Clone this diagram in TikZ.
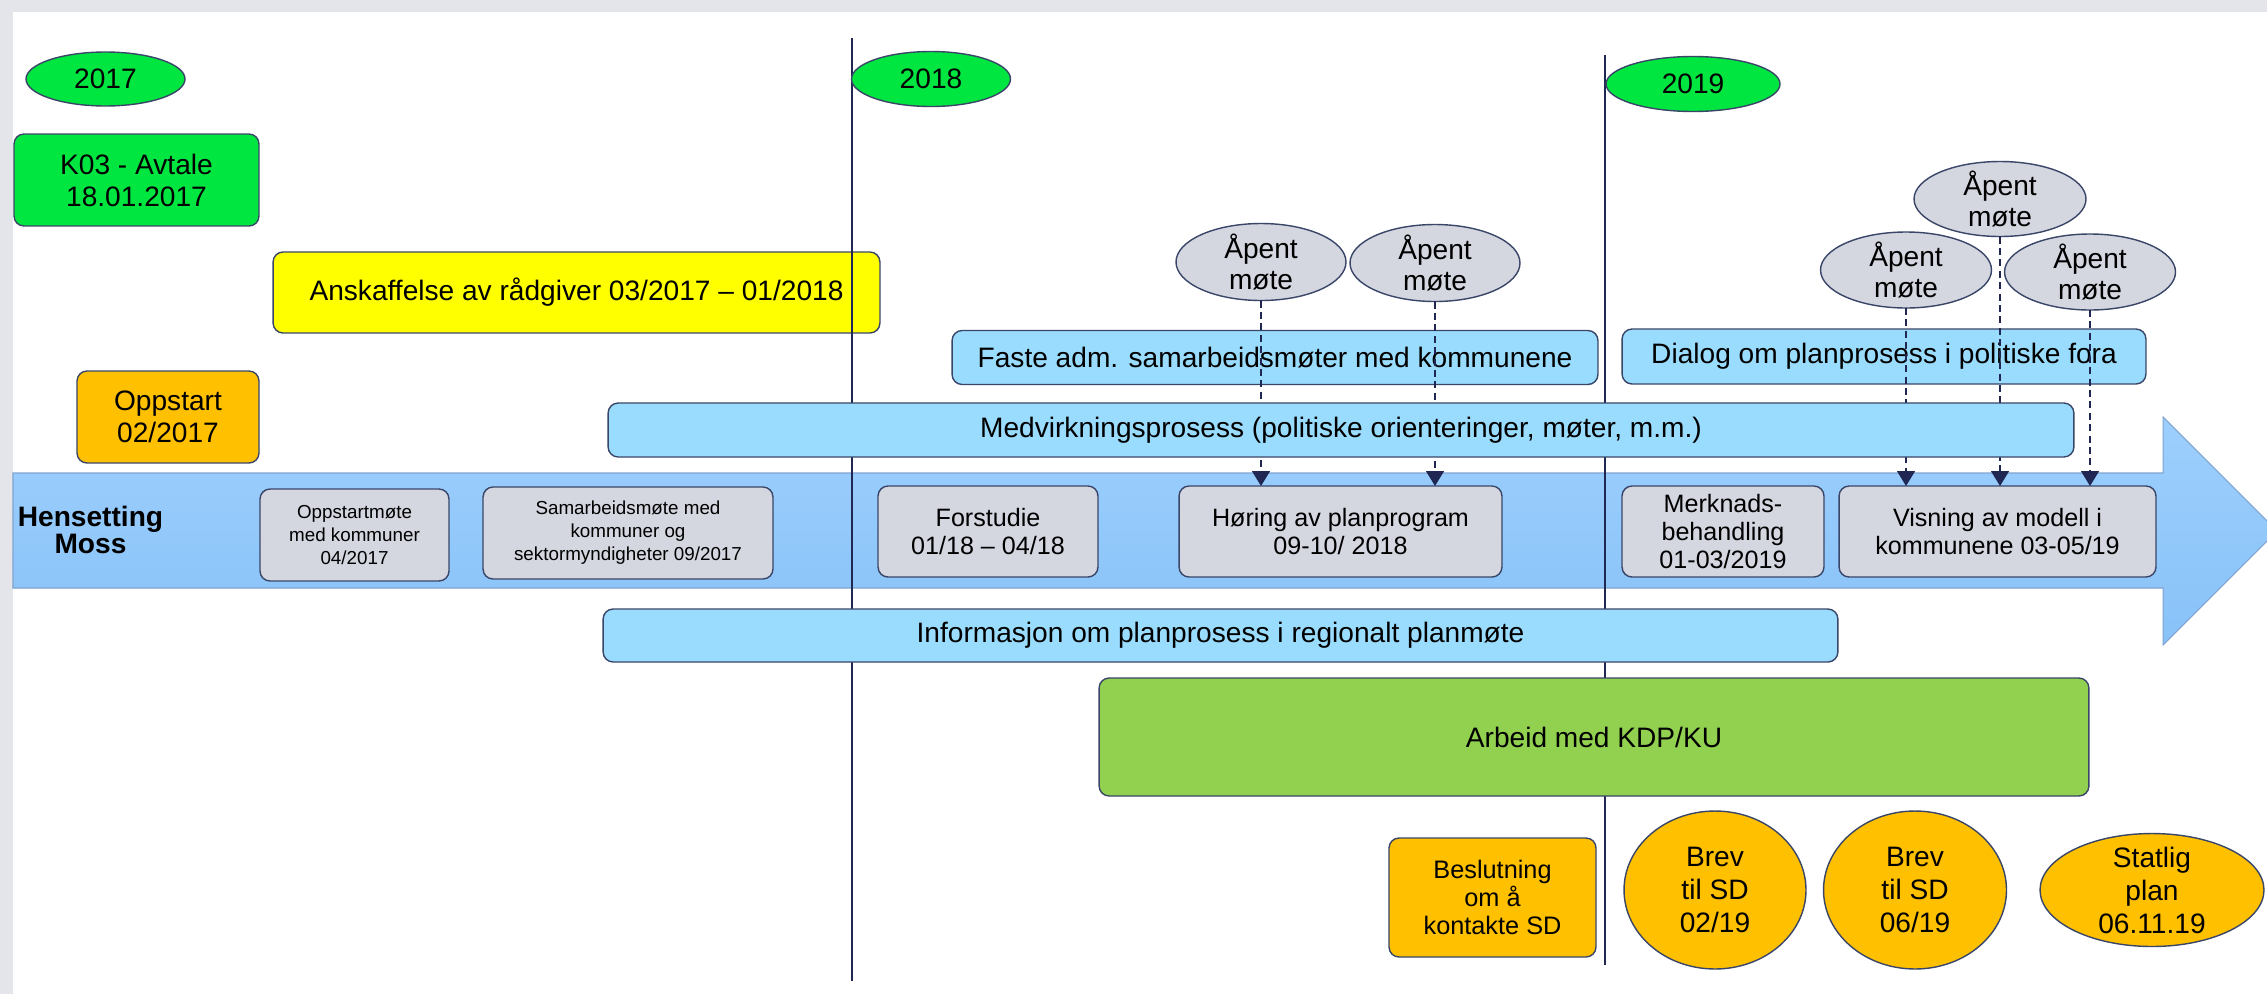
\documentclass[tikz,border=0pt]{standalone}
\usepackage{fontspec}
\setmainfont{Liberation Sans}
\usetikzlibrary{shapes.geometric,arrows.meta}
\definecolor{framec}{HTML}{E4E5EA}
\definecolor{bord}{HTML}{3A4668}
\definecolor{navy}{HTML}{1F2752}
\definecolor{cgreen}{HTML}{00E640}
\definecolor{cyellow}{HTML}{FFFF00}
\definecolor{corange}{HTML}{FFC000}
\definecolor{lblue}{HTML}{9ADCFD}
\definecolor{cgray}{HTML}{D4D6E0}
\definecolor{kgreen}{HTML}{92D050}
\definecolor{bandt}{HTML}{9DCFFD}
\definecolor{bandb}{HTML}{88C2F8}
\definecolor{bandd}{HTML}{7FA3CF}
\begin{document}
\begin{tikzpicture}[x=0.02cm,y=-0.02cm,
  base/.style={inner sep=0pt,outer sep=0pt,align=center,draw=bord,line width=0.8pt},
  rbox/.style={base,rectangle,rounded corners=0.2cm},
  ebox/.style={base,ellipse},
  tnode/.style={inner sep=0pt,outer sep=0pt,align=center},
  big/.style={font=\fontsize{16}{18.2}\selectfont},
  mid/.style={font=\fontsize{14.3}{15.8}\selectfont},
  sml/.style={font=\fontsize{10.7}{13.1}\selectfont},
  yline/.style={draw=navy,line width=1.1pt},
  darr/.style={draw=navy,line width=0.7pt,dash pattern=on 4pt off 2.5pt,-{Triangle[width=0.36cm,length=0.3cm]}},
]
\useasboundingbox (0,0) rectangle (2267,994);
% background
\fill[framec] (0,0) rectangle (2267,994);
\fill[white] (13,12) rectangle (2267,994);
% big timeline arrow
\shadedraw[top color=bandt,bottom color=bandb,draw=bandd,line width=0.6pt]
  (13,473) -- (2163,473) -- (2163,417) -- (2277,531) -- (2163,645) -- (2163,588) -- (13,588) -- cycle;
% yellow box (under the year line)
\node[rbox,fill=cyellow,minimum width=12.14cm,minimum height=1.62cm,big] (ansk) at (576.5,292.5) {Anskaffelse av rådgiver 03/2017 -- 01/2018};
% year lines
\coordinate (l18a) at (852,38);
\coordinate (l18b) at (852,981);
\coordinate (l19a) at (1605,55);
\coordinate (l19b) at (1605,965);
\draw[yline] (l18a) -- (l18b);
\draw[yline] (l19a) -- (l19b);
% year ellipses
\node[ebox,fill=cgreen,minimum width=3.18cm,minimum height=1.08cm,big] (y17) at (105.5,79) {2017};
\node[ebox,fill=cgreen,minimum width=3.18cm,minimum height=1.10cm,big] (y18) at (931,79) {2018};
\node[ebox,fill=cgreen,minimum width=3.48cm,minimum height=1.10cm,big] (y19) at (1693,84) {2019};
% top left boxes
\node[rbox,fill=cgreen,minimum width=4.90cm,minimum height=1.84cm,big] (k03) at (136.5,180) {K03 - Avtale\\18.01.2017};
\node[rbox,fill=corange,minimum width=3.64cm,minimum height=1.84cm,big] (opp) at (168,417) {Oppstart\\02/2017};
% meeting rows
\node[rbox,fill=lblue,minimum width=12.92cm,minimum height=1.08cm,big] (faste) at (1275,357.5) {Faste adm. samarbeidsmøter med kommunene};
\node[rbox,fill=lblue,minimum width=10.48cm,minimum height=1.10cm,big] (dialog) at (1884,356.5) {Dialog om planprosess i politiske fora};
% grey boxes in the band
\node[rbox,fill=cgray,minimum width=3.78cm,minimum height=1.84cm,sml] (opm) at (354.5,535) {Oppstartmøte\\med kommuner\\04/2017};
\node[rbox,fill=cgray,minimum width=5.80cm,minimum height=1.84cm,sml] (sam) at (628,533) {Samarbeidsmøte med\\kommuner og\\sektormyndigheter 09/2017};
\node[rbox,fill=cgray,minimum width=4.40cm,minimum height=1.82cm,mid] (forst) at (988,531.5) {Forstudie\\01/18 -- 04/18};
\node[rbox,fill=cgray,minimum width=6.46cm,minimum height=1.82cm,mid] (hor) at (1340.5,531.5) {Høring av planprogram\\09-10/ 2018};
\node[rbox,fill=cgray,minimum width=4.04cm,minimum height=1.82cm,mid] (merk) at (1723,531.5) {Merknads-\\behandling\\01-03/2019};
\node[rbox,fill=cgray,minimum width=6.34cm,minimum height=1.82cm,mid] (vis) at (1997.5,531.5) {Visning av modell i\\kommunene 03-05/19};
\node[tnode,font=\bfseries\fontsize{16}{15.2}\selectfont] (hm) at (90.5,530) {Hensetting\\Moss};
% open meetings
\node[ebox,fill=cgray,minimum width=3.40cm,minimum height=1.54cm] (e1) at (1261,262) {};
\node[tnode,big] (e1t) at (e1) {Åpent\\møte};
\node[ebox,fill=cgray,minimum width=3.40cm,minimum height=1.54cm] (e2) at (1435,263) {};
\node[tnode,big] (e2t) at (e2) {Åpent\\møte};
\node[ebox,fill=cgray,minimum width=3.44cm,minimum height=1.50cm] (e3) at (2000,199) {};
\node[tnode,big] (e3t) at (e3) {Åpent\\møte};
\node[ebox,fill=cgray,minimum width=3.42cm,minimum height=1.52cm] (e4) at (1906,270) {};
\node[tnode,big] (e4t) at (e4) {Åpent\\møte};
\node[ebox,fill=cgray,minimum width=3.42cm,minimum height=1.52cm] (e5) at (2090,272) {};
\node[tnode,big] (e5t) at (e5) {Åpent\\møte};
% dashed arrows
\draw[darr] (e1.south) -- (e1.south |- hor.north);
\draw[darr] (e2.south) -- (e2.south |- hor.north);
\draw[darr] (e4.south) -- (e4.south |- vis.north);
\draw[darr] (e3.south) -- (e3.south |- vis.north);
\draw[darr] (e5.south) -- (e5.south |- vis.north);
% long bars
\node[rbox,fill=lblue,minimum width=29.32cm,minimum height=1.08cm,big] (medv) at (1341,430) {Medvirkningsprosess (politiske orienteringer, møter, m.m.)};
\node[rbox,fill=lblue,minimum width=24.70cm,minimum height=1.06cm,big] (info) at (1220.5,635.5) {Informasjon om planprosess i regionalt planmøte};
\node[rbox,fill=kgreen,minimum width=19.80cm,minimum height=2.36cm,big] (arb) at (1594,737) {Arbeid med KDP/KU};
% bottom milestones
\node[rbox,fill=corange,minimum width=4.14cm,minimum height=2.38cm,font=\fontsize{14.4}{15.8}\selectfont] (besl) at (1492.5,897.5) {Beslutning\\om å\\kontakte SD};
\node[ebox,fill=corange,minimum width=3.64cm,minimum height=3.16cm] (b1) at (1715,890) {};
\node[tnode,font=\fontsize{16}{18.8}\selectfont] (b1t) at (b1) {Brev\\til SD\\02/19};
\node[ebox,fill=corange,minimum width=3.66cm,minimum height=3.16cm] (b2) at (1915,890) {};
\node[tnode,font=\fontsize{16}{18.8}\selectfont] (b2t) at (b2) {Brev\\til SD\\06/19};
\node[ebox,fill=corange,minimum width=4.48cm,minimum height=2.26cm] (st) at (2152,890) {};
\node[tnode,font=\fontsize{16}{18.8}\selectfont] (stt) at (st) {Statlig\\plan\\06.11.19};
\end{tikzpicture}
\end{document}
